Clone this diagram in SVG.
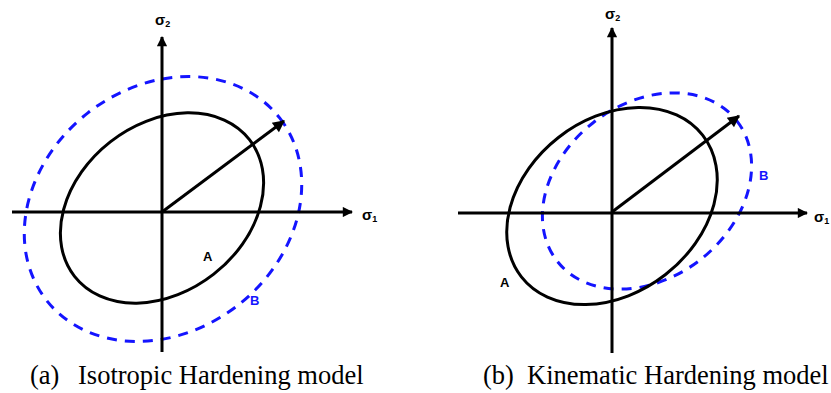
<svg xmlns="http://www.w3.org/2000/svg" width="831" height="393" viewBox="0 0 831 393">
  <defs>
    <marker id="ax" viewBox="0 0 10 10" refX="9" refY="5" markerWidth="4" markerHeight="3.4" markerUnits="strokeWidth" orient="auto">
      <path d="M0,0 L10,5 L0,10 z" fill="#000"/>
    </marker>
    <marker id="vec" viewBox="0 0 10 10" refX="9" refY="5" markerWidth="5" markerHeight="4" markerUnits="strokeWidth" orient="auto">
      <path d="M0,0 L10,5 L0,10 z" fill="#000"/>
    </marker>
  </defs>
  <style>
    .axis { stroke:#000; stroke-width:3; fill:none; }
    .yieldA { stroke:#000; stroke-width:3; fill:none; }
    .yieldB { stroke:#1414ff; stroke-width:3; fill:none; stroke-dasharray:10 8; }
    .vec { stroke:#000; stroke-width:3; fill:none; }
    .sig { font-family:"Liberation Sans", Arial, sans-serif; font-weight:bold; font-size:15px; fill:#000; }
    .sub { font-size:9px; }
    .lbl { font-family:"Liberation Sans", Arial, sans-serif; font-weight:bold; font-size:13px; }
    .cap { font-family:"Liberation Serif", "Times New Roman", serif; font-size:26.5px; fill:#000; }
  </style>
  <rect width="831" height="393" fill="#fff"/>

  <g id="panel-a">
    <g id="a-curves">
      <ellipse class="yieldB" cx="0" cy="0" rx="148" ry="122" transform="translate(163,209) rotate(-38)"/>
      <ellipse class="yieldA" cx="0" cy="0" rx="111" ry="84" transform="translate(162,208) rotate(-38)"/>
    </g>
    <g id="a-axes">
      <line class="axis" x1="162" y1="352" x2="162" y2="37" marker-end="url(#ax)"/>
      <line class="axis" x1="12" y1="212" x2="352" y2="212" marker-end="url(#ax)"/>
      <line class="vec" x1="162" y1="212" x2="284" y2="121" marker-end="url(#vec)"/>
    </g>
    <g id="a-labels">
      <text class="sig" x="155" y="25">σ<tspan class="sub" dy="2">2</tspan></text>
      <text class="sig" x="362" y="220">σ<tspan class="sub" dy="2">1</tspan></text>
      <text class="lbl" x="203" y="261" fill="#000">A</text>
      <text class="lbl" x="250" y="305" fill="#1414ff">B</text>
    </g>
    <g id="a-caption">
      <text class="cap" x="30" y="384">(a)</text>
      <text class="cap" x="78" y="384">Isotropic Hardening model</text>
    </g>
  </g>

  <g id="panel-b">
    <g id="b-curves">
      <ellipse class="yieldB" cx="0" cy="0" rx="114" ry="87" transform="translate(647,191) rotate(-38)"/>
      <ellipse class="yieldA" cx="0" cy="0" rx="115" ry="87" transform="translate(612,206) rotate(-38)"/>
    </g>
    <g id="b-axes">
      <line class="axis" x1="612" y1="353" x2="612" y2="28" marker-end="url(#ax)"/>
      <line class="axis" x1="458" y1="213" x2="807" y2="213" marker-end="url(#ax)"/>
      <line class="vec" x1="612" y1="212" x2="739" y2="116" marker-end="url(#vec)"/>
    </g>
    <g id="b-labels">
      <text class="sig" x="605" y="19">σ<tspan class="sub" dy="2">2</tspan></text>
      <text class="sig" x="814" y="222">σ<tspan class="sub" dy="2">1</tspan></text>
      <text class="lbl" x="500" y="287" fill="#000">A</text>
      <text class="lbl" x="759" y="180" fill="#1414ff">B</text>
    </g>
    <g id="b-caption">
      <text class="cap" x="483" y="384">(b)</text>
      <text class="cap" x="527" y="384">Kinematic Hardening model</text>
    </g>
  </g>
</svg>
